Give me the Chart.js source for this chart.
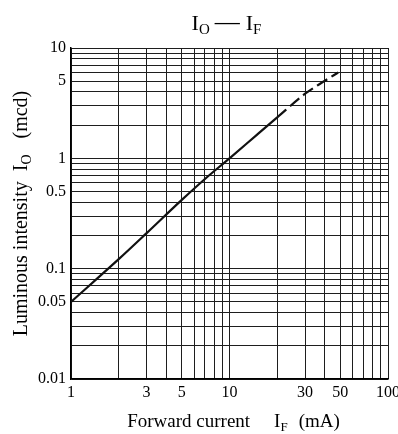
<!DOCTYPE html>
<html><head><meta charset="utf-8">
<script src="https://cdn.jsdelivr.net/npm/chart.js@4"></script>
<style>html,body{margin:0;padding:0;background:#fff;}canvas{display:block;}</style>
</head><body>
<canvas id="c" width="398" height="434"></canvas>
<script>
// ---- data ----
const forwardCurrentMA = [1, 2, 3, 5, 7, 10, 15, 20, 30, 40, 48.5];
const luminousIntensityMcd = [0.05, 0.122, 0.21, 0.42, 0.65, 1.0, 1.65, 2.35, 3.85, 5.05, 6.0];
const dashedFromMA = 20;

const xGridValues = [1, 2, 3, 4, 5, 6, 7, 8, 9, 10, 20, 30, 40, 50, 60, 70, 80, 90, 100];
const xTickLabels = [1, 3, 5, 10, 30, 50, 100];
const yGridValues = [0.01, 0.02, 0.03, 0.04, 0.05, 0.06, 0.07, 0.08, 0.09,
                     0.1, 0.2, 0.3, 0.4, 0.5, 0.6, 0.7, 0.8, 0.9,
                     1, 2, 3, 4, 5, 6, 7, 8, 9, 10];
const yTickLabels = [0.01, 0.05, 0.1, 0.5, 1, 5, 10];

const SERIF = '"Liberation Serif", "DejaVu Serif", serif';

function drawRich(ctx, parts, mainSize, subSize, subDrop) {
  const items = parts.map(p => {
    if (p.gap !== undefined) return {gap: p.gap};
    ctx.font = (p.sub ? subSize : (p.size || mainSize)) + 'px ' + SERIF;
    return {t: p.t, sub: p.sub, size: p.size, w: ctx.measureText(p.t).width};
  });
  const total = items.reduce((s, it) => s + (it.gap !== undefined ? it.gap : it.w), 0);
  let x = -total / 2;
  items.forEach(it => {
    if (it.gap !== undefined) { x += it.gap; return; }
    ctx.font = (it.sub ? subSize : (it.size || mainSize)) + 'px ' + SERIF;
    ctx.fillText(it.t, x, it.sub ? subDrop : 0);
    x += it.w;
  });
}

const textPlugin = {
  id: 'richTexts',
  afterDraw(chart) {
    const ctx = chart.ctx;
    const a = chart.chartArea;
    ctx.save();
    ctx.fillStyle = '#000';
    ctx.textAlign = 'left';
    ctx.textBaseline = 'alphabetic';
    // chart title
    ctx.save();
    ctx.translate(226.5, 29.5);
    drawRich(ctx, [{t: 'I'}, {t: 'O', sub: true}, {gap: 5}, {t: '\u2014', size: 25}, {gap: 6}, {t: 'I'}, {t: 'F', sub: true}], 22, 15, 4.5);
    ctx.restore();
    // x axis title
    ctx.save();
    ctx.translate(233.5, 427);
    drawRich(ctx, [{t: 'Forward current'}, {gap: 24}, {t: 'I'}, {t: 'F', sub: true}, {gap: 11}, {t: '(mA)'}], 19, 13, 4);
    ctx.restore();
    // y axis title
    ctx.save();
    ctx.translate(27, (a.top + a.bottom) / 2);
    ctx.rotate(-Math.PI / 2);
    drawRich(ctx, [{t: 'Luminous intensity'}, {gap: 10}, {t: 'I'}, {t: 'O', sub: true}, {gap: 16}, {t: '(mcd)'}], 20, 14, 4);
    ctx.restore();
    ctx.restore();
  }
};

new Chart(document.getElementById('c'), {
  type: 'line',
  data: {
    datasets: [{
      data: forwardCurrentMA.map((x, i) => ({x: x, y: luminousIntensityMcd[i]})),
      borderColor: '#111',
      borderWidth: 2.2,
      pointRadius: 0,
      fill: false,
      cubicInterpolationMode: 'monotone',
      segment: {
        borderDash: ctx => ctx.p0.parsed.x >= dashedFromMA ? [12, 5] : undefined
      }
    }]
  },
  options: {
    responsive: false,
    animation: false,
    devicePixelRatio: 1,
    layout: {padding: {left: 0, right: 10, top: 48, bottom: 0}},
    plugins: {legend: {display: false}, title: {display: false}, tooltip: {enabled: false}},
    scales: {
      x: {
        type: 'logarithmic',
        min: 1, max: 100,
        afterBuildTicks: s => { s.ticks = xGridValues.map(v => ({value: v})); },
        afterFit: s => { s.height = 55; s.paddingLeft = 0; s.paddingRight = 0; },
        ticks: {
          autoSkip: false, maxRotation: 0, minRotation: 0,
          callback: v => xTickLabels.includes(v) ? String(v) : '',
          font: {family: SERIF, size: 16}, color: '#000', padding: 4
        },
        grid: {color: '#1e1e1e', lineWidth: 1, drawTicks: false},
        border: {color: '#000', width: 1.5}
      },
      y: {
        type: 'logarithmic',
        min: 0.01, max: 10,
        afterBuildTicks: s => { s.ticks = yGridValues.map(v => ({value: v})); },
        afterFit: s => { s.width = 71; s.paddingTop = 0; s.paddingBottom = 0; },
        ticks: {
          autoSkip: false,
          callback: v => yTickLabels.includes(v) ? String(v) : '',
          font: {family: SERIF, size: 16}, color: '#000', padding: 5
        },
        grid: {color: '#1e1e1e', lineWidth: 1, drawTicks: false},
        border: {color: '#000', width: 1.5}
      }
    }
  },
  plugins: [textPlugin]
});
</script>
</body></html>
